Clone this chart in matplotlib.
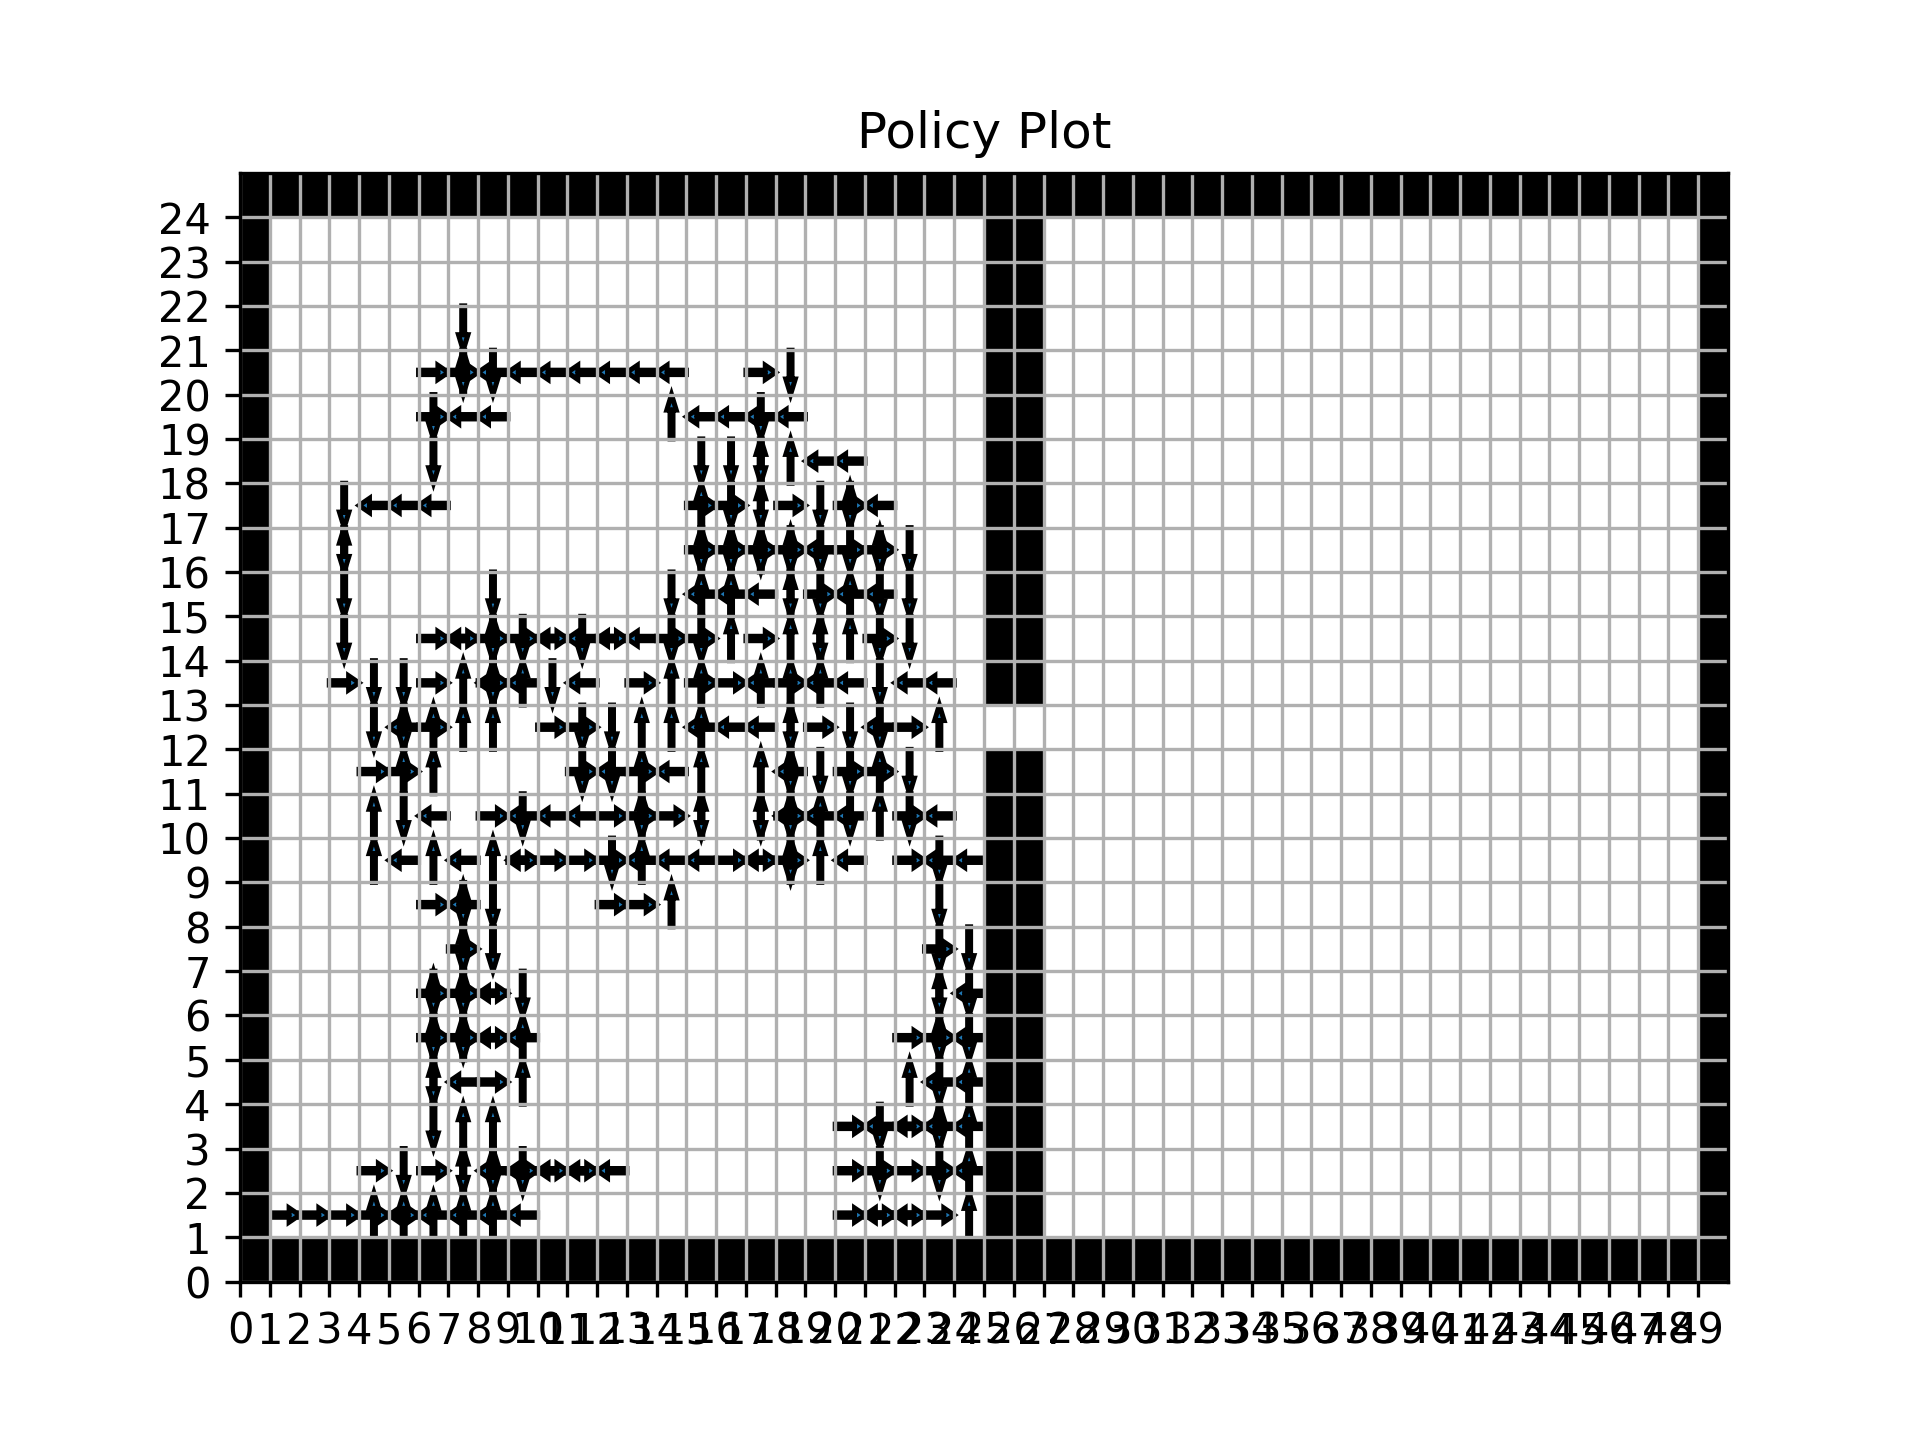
import matplotlib
matplotlib.use("Agg")
import matplotlib.pyplot as plt
import numpy as np

# grid size
n_cols, n_rows = 50, 25
# wall layout
wall_rows = [0, 24]
wall_cols = [0, 25, 26, 49]
door_row = 12
door_cols = [25, 26]

# policy: one string per row (y = 1 .. 21), 24 tokens for columns x = 1 .. 24
# U = up, D = down, L = left, R = right, '.' = no arrow
policy_rows = {
    1:  "R R R UR ULR UL UL UL L . . . . . . . . . . R LR LR R U",
    2:  ". . . R D R UD LUD DLR LR LR L . . . . . . . R RD R RD LU",
    3:  ". . . . . D U U . . . . . . . . . . . R DL LR LUD LU",
    4:  ". . . . . UD L R U . . . . . . . . . . . . U LD LU",
    5:  ". . . . . RUD UDR LR LU . . . . . . . . . . . . R RUD LD",
    6:  ". . . . . RUD UDR LR D . . . . . . . . . . . . . UD LD",
    7:  ". . . . . . URD D . . . . . . . . . . . . . . RD D",
    8:  ". . . . . R UDL D . . . R R U . . . . . . . . D .",
    9:  ". . . U L U L U LR R R RD LU L L R LR URD U L . R LD L",
    10: ". . . U D L . R LD L L R URD R UD . UD UDLR LU LD U RD L",
    11: ". . . R RU U . . . . RD LD RU L U . U LUD D RD RU D . .",
    12: ". . . D LUD RU U U . R RD D U U LU L L UD R D LD R U",
    13: ". . R D D R U UDLR LU D L . R U UR R LU RU LU L D L L .",
    14: ". . D . . R LR RUD RD LR LD LR L RD RD U R U UD U RD D . .",
    15: ". . D . . . . D . . . . . D LU LU L UD RD LU LD D . .",
    16: ". . UD . . . . . . . . . . . RUD RUD RUD UDR LD RD RUD D . .",
    17: ". . D L L L . . . . . . . . RU RD UD R D UDR L . . .",
    18: ". . . . . D . . . . . . . . D D UD U L L . . . .",
    19: ". . . . . RD L L . . . . . U L L LD L . . . . . .",
    20: ". . . . . R RUD LD L L L L L L . . R D . . . . . .",
    21: ". . . . . . D . . . . . . . . . . . . . . . . .",
}

# arrow vectors
dir_vec = {"U": (0, 1), "D": (0, -1), "L": (-1, 0), "R": (1, 0)}

fig, ax = plt.subplots(figsize=(6.4, 4.8), dpi=300)

grid = np.zeros((n_rows, n_cols))
for r in wall_rows:
    grid[r, :] = 1
for c in wall_cols:
    grid[:, c] = 1
for c in door_cols:
    grid[door_row, c] = 0

ax.imshow(grid, cmap="binary", origin="lower", extent=[0, n_cols, 0, n_rows],
          aspect="auto", interpolation="nearest", vmin=0, vmax=1)

for y, row in policy_rows.items():
    tokens = row.split()
    for i, tok in enumerate(tokens):
        x = i + 1
        if tok == ".":
            continue
        for d in tok:
            dx, dy = dir_vec[d]
            ax.arrow(x + 0.5 - dx / 2, y + 0.5 - dy / 2, dx, dy,
                     width=0.1, head_width=0.32, head_length=0.35,
                     length_includes_head=True, fc="C0", ec="k", lw=1.2)

ax.set_xlim(0, n_cols)
ax.set_ylim(0, n_rows)
ax.set_xticks(range(n_cols))
ax.set_yticks(range(n_rows))
ax.grid(True)
ax.set_title("Policy Plot")

fig.savefig("out.png", dpi=300)
